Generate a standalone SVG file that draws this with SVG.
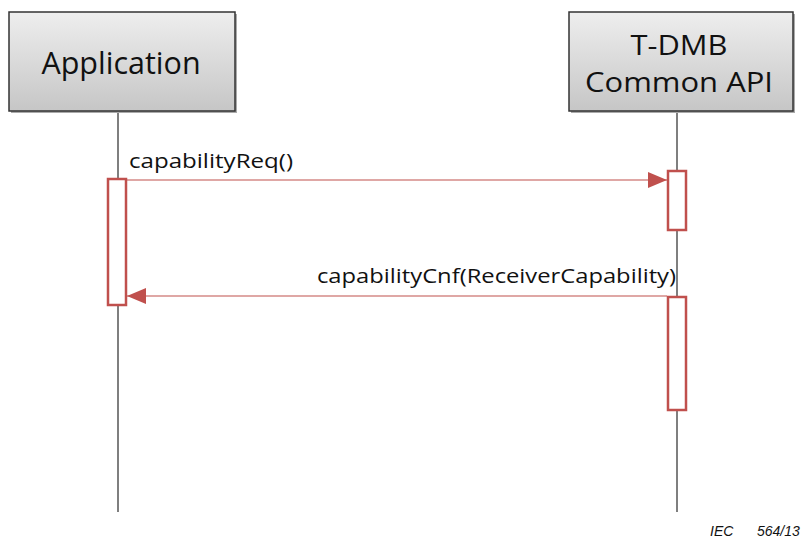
<svg xmlns="http://www.w3.org/2000/svg" width="805" height="539" viewBox="0 0 805 539">
<style>
.box{stroke:#333;stroke-width:1.5;fill:url(#g)}
.lbl{font-family:"Open Sans","Liberation Sans",sans-serif;font-size:30.5px;fill:#111;text-anchor:middle}
.lbl2{font-family:"Open Sans","Liberation Sans",sans-serif;font-size:27px;fill:#111;text-anchor:middle}
.msg{font-family:"Open Sans","Liberation Sans",sans-serif;font-size:19.5px;fill:#111}
.life{stroke:#555;stroke-width:1.5}
.act{fill:#fff;stroke:#c0504d;stroke-width:2.5}
.arr{stroke:#c0504d;stroke-width:1.2;fill:none}
.iec{font-family:"Liberation Sans",sans-serif;font-size:14px;font-style:italic;fill:#111}
</style>
<defs>
<linearGradient id="g" x1="0" y1="0" x2="0" y2="1">
<stop offset="0" stop-color="#eeeeee"/>
<stop offset="1" stop-color="#c6c6c6"/>
</linearGradient>
<marker id="ah" markerWidth="20" markerHeight="16" refX="19" refY="8" orient="auto" markerUnits="userSpaceOnUse">
<path d="M0,0 L19,8 L0,16 Z" fill="#c0504d"/>
</marker>
</defs>
<g id="lifelines">
<line class="life" x1="118" y1="111" x2="118" y2="512"/>
<line class="life" x1="677" y1="111" x2="677" y2="512"/>
</g>
<g id="application">
<rect x="11" y="14" width="226" height="99" fill="#aaa"/>
<rect class="box" x="9" y="12" width="226" height="99"/>
<text class="lbl" x="121" y="74">Application</text>
</g>
<g id="tdmb">
<rect x="571" y="14" width="224" height="99" fill="#aaa"/>
<rect class="box" x="569" y="12" width="224" height="99"/>
<text class="lbl2" x="679" y="55" textLength="97" lengthAdjust="spacingAndGlyphs">T-DMB</text>
<text class="lbl2" x="679" y="92" textLength="188" lengthAdjust="spacingAndGlyphs">Common API</text>
</g>
<g id="activations">
<rect class="act" x="108" y="179" width="18" height="126"/>
<rect class="act" x="668" y="171" width="18" height="59"/>
<rect class="act" x="668" y="297" width="18" height="113"/>
</g>
<g id="connectors">
<line class="arr" x1="127" y1="180" x2="667" y2="180" marker-end="url(#ah)"/>
<line class="arr" x1="667" y1="296" x2="127" y2="296" marker-end="url(#ah)"/>
</g>
<text class="msg" x="129" y="168" textLength="164" lengthAdjust="spacingAndGlyphs">capabilityReq()</text>
<text class="msg" x="317" y="283" textLength="359" lengthAdjust="spacingAndGlyphs">capabilityCnf(ReceiverCapability)</text>
<text class="iec" x="710" y="536">IEC</text>
<text class="iec" x="757" y="536">564/13</text>
</svg>
